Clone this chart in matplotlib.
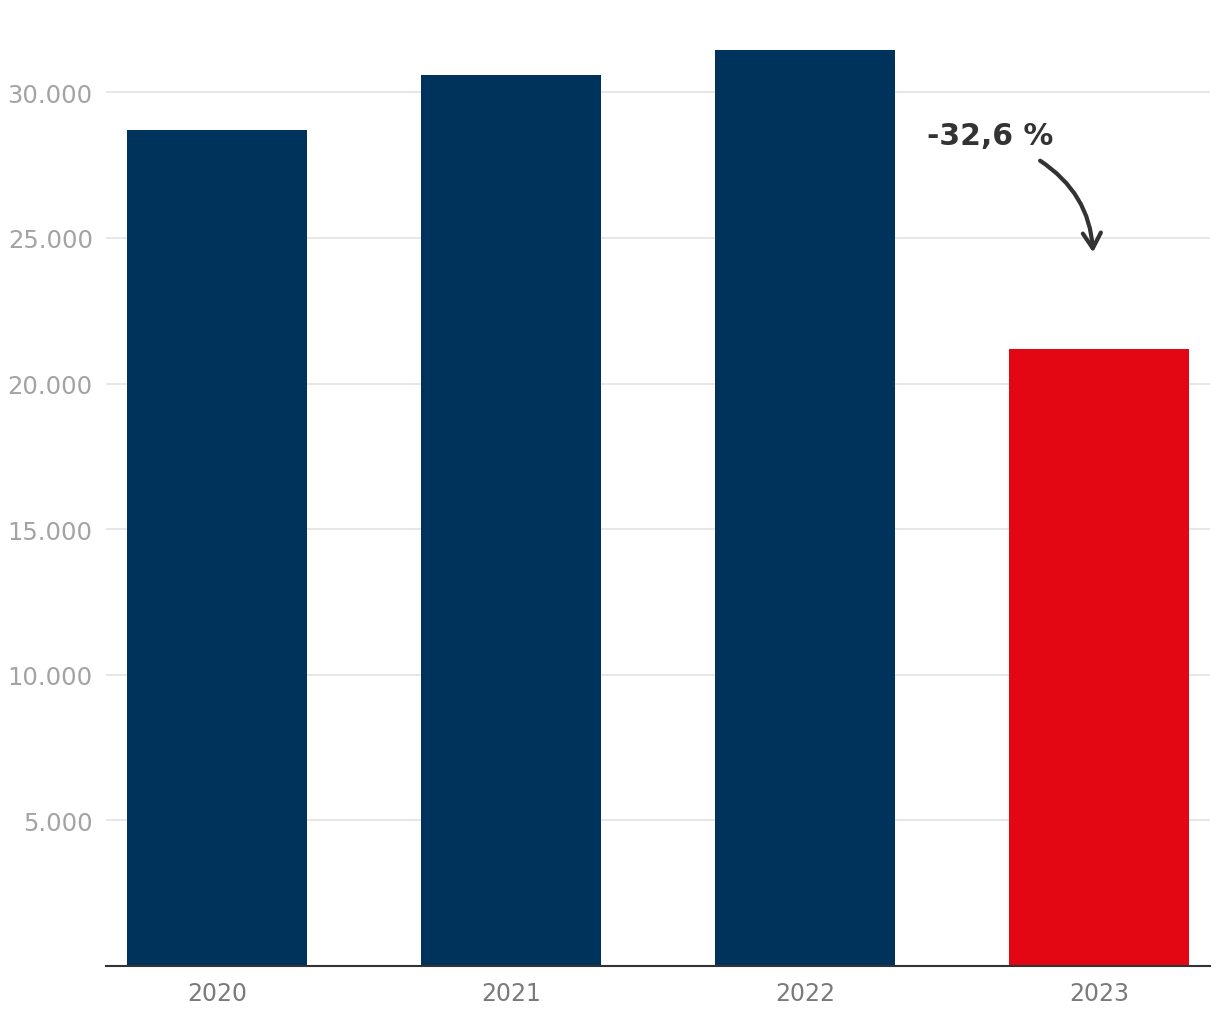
import numpy as np
import matplotlib
matplotlib.use('Agg')
import matplotlib.pyplot as plt
from matplotlib.ticker import FuncFormatter

# data
years = ['2020', '2021', '2022', '2023']
values = [28700, 30600, 31450, 21200]
bar_colors = ['#00335c', '#00335c', '#00335c', '#e30613']
change_label = '-32,6 %'

plt.rcParams['font.family'] = ['DejaVu Sans']

fig = plt.figure(figsize=(12.2, 10.2), dpi=100)
ax = fig.add_axes([106/1220, 53/1020, 1104/1220, 932/1020])

x = np.arange(len(years))
ax.bar(x, values, width=0.61, color=bar_colors, zorder=2)

ax.set_xlim(-0.378, 3.378)
ax.set_ylim(0, 32000)
ax.set_yticks([5000, 10000, 15000, 20000, 25000, 30000])
ax.yaxis.set_major_formatter(FuncFormatter(lambda v, p: f'{int(v):,}'.replace(',', '.')))
ax.set_xticks(x)
ax.set_xticklabels(years)

ax.grid(axis='y', color='#e3e3e3', linewidth=1.2, zorder=0)
for s in ['top', 'right', 'left']:
    ax.spines[s].set_visible(False)
ax.spines['bottom'].set_color('#333333')
ax.spines['bottom'].set_linewidth(1.5)
ax.spines['bottom'].set_zorder(3)

ax.tick_params(axis='y', length=0, pad=9.5, labelsize=17.5, labelcolor='#a3a3a3')
ax.tick_params(axis='x', length=0, pad=11, labelsize=17, labelcolor='#7a7a7a')

# annotation with curved arrow
ax.text(2.63, 28500, change_label, fontsize=21.5, fontweight='bold', color='#333333',
        ha='center', va='center')
ax.annotate('', xy=(2.98, 24500), xytext=(2.80, 27650),
            arrowprops=dict(arrowstyle='->,head_length=1.1,head_width=0.65',
                            connectionstyle='arc3,rad=-0.25',
                            color='#333333', lw=3, shrinkA=0, shrinkB=0))

fig.savefig('out.png', dpi=100)
